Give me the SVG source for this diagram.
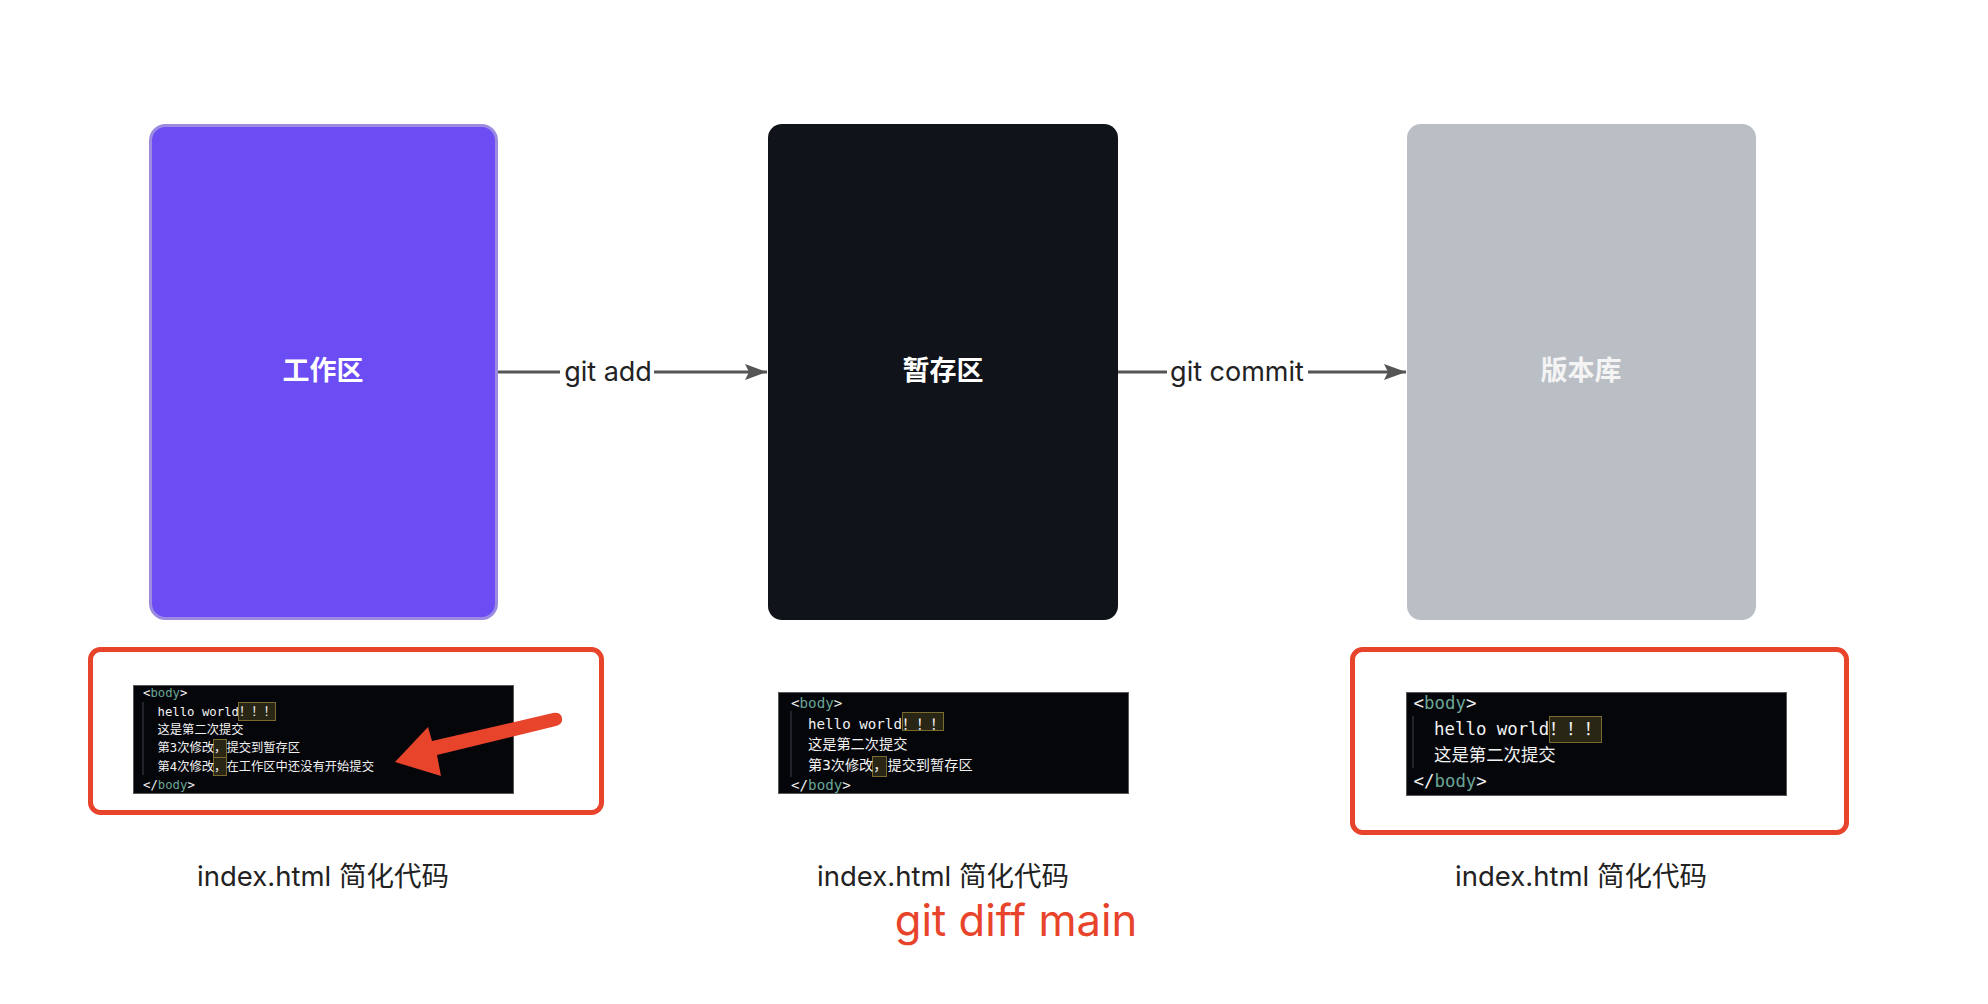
<svg xmlns="http://www.w3.org/2000/svg" width="1988" height="1004" viewBox="0 0 1988 1004">
<style>
.lbl{font-family:Inter,"Noto Sans CJK SC",sans-serif;fill:#222;font-size:27.5px;text-anchor:middle}
.conlbl{font-family:Inter,"Noto Sans CJK SC",sans-serif;fill:#222;font-size:27px;text-anchor:middle}
.title{font-family:"Noto Sans CJK SC",sans-serif;font-size:27px;font-weight:bold;text-anchor:middle}
.code{font-family:"DejaVu Sans Mono","Noto Sans CJK SC",monospace;fill:#f2f2f2}
.tag{fill:#6aa596}
.hl{fill:#2a2615;stroke:#7b6a2e;stroke-width:1}
.guide{stroke:#2b2f36;stroke-width:1.5}
.cb{fill:#05060a;stroke:#5a5a5a;stroke-width:1}
.red{fill:none;stroke:#e8432b;stroke-width:5}
.conn{stroke:#555;stroke-width:3;fill:none}
</style>
<defs>
<marker id="ah" viewBox="0 0 22 16" refX="22" refY="8" markerWidth="22" markerHeight="16" markerUnits="userSpaceOnUse" orient="auto">
<path d="M0,0 L22,8 L0,16 L4,8 Z" fill="#555"/>
</marker>
</defs>
<rect width="1988" height="1004" fill="#fff"/>

<g id="workspace">
<rect x="150.5" y="125.5" width="346" height="493" rx="15" fill="#6c4cf3" stroke="#9c8be0" stroke-width="3"/>
<text class="title" x="323" y="380" fill="#fff">工作区</text>
</g>
<g id="staging">
<rect x="768" y="124" width="350" height="496" rx="14" fill="#10131a"/>
<text class="title" x="943" y="380" fill="#fff">暂存区</text>
</g>
<g id="repo">
<rect x="1407" y="124" width="349" height="496" rx="14" fill="#babec5"/>
<text class="title" x="1581" y="380" fill="#f4f4f4">版本库</text>
</g>

<g id="connectors">
<line class="conn" x1="498" y1="372" x2="560" y2="372"/>
<line class="conn" x1="654" y1="372" x2="767" y2="372" marker-end="url(#ah)"/>
<text class="conlbl" x="608" y="381">git add</text>
<line class="conn" x1="1118" y1="372" x2="1167" y2="372"/>
<line class="conn" x1="1308" y1="372" x2="1406" y2="372" marker-end="url(#ah)"/>
<text class="conlbl" x="1237" y="381">git commit</text>
</g>

<g id="code-workspace">
<rect class="red" x="90.5" y="649.5" width="511" height="163" rx="10"/>
<rect class="cb" x="133.5" y="685.5" width="380" height="108"/>
<line class="guide" x1="143" y1="702" x2="143" y2="775"/>
<rect class="hl" x="238.5" y="702.5" width="37" height="18"/>
<rect class="hl" x="213.5" y="739.5" width="13" height="18"/>
<rect class="hl" x="213.5" y="757.5" width="13" height="18"/>
<g class="code" font-size="12.3">
<text x="143" y="697">&lt;<tspan class="tag">body</tspan>&gt;</text>
<text x="157.5" y="715.5">hello world！！！</text>
<text x="157.5" y="734">这是第二次提交</text>
<text x="157.5" y="752">第3次修改，提交到暂存区</text>
<text x="157.5" y="770.5">第4次修改，在工作区中还没有开始提交</text>
<text x="143" y="789">&lt;/<tspan class="tag">body</tspan>&gt;</text>
</g>
<path d="M395,762 L428,727 L432,741 L553,713 Q561,712 562,718 Q563,724 556,726 L437,755 L441,776 Z" fill="#e8432b"/>
<text class="lbl" x="323" y="886">index.html 简化代码</text>
</g>

<g id="code-staging">
<rect class="cb" x="778.5" y="692.5" width="350" height="101"/>
<line class="guide" x1="791" y1="711" x2="791" y2="777"/>
<rect class="hl" x="902.5" y="712.5" width="41" height="18"/>
<rect class="hl" x="872.5" y="756.5" width="14" height="20"/>
<g class="code" font-size="14.2">
<text x="791" y="708">&lt;<tspan class="tag">body</tspan>&gt;</text>
<text x="808" y="728.5">hello world！！！</text>
<text x="808" y="749">这是第二次提交</text>
<text x="808" y="769.5">第3次修改，提交到暂存区</text>
<text x="791" y="790">&lt;/<tspan class="tag">body</tspan>&gt;</text>
</g>
<text class="lbl" x="943" y="886">index.html 简化代码</text>
<text x="1016" y="936" font-family="Inter,sans-serif" font-size="43.5" fill="#e8432b" text-anchor="middle">git diff main</text>
</g>

<g id="code-repo">
<rect class="red" x="1352.5" y="649.5" width="494" height="183" rx="10"/>
<rect class="cb" x="1406.5" y="692.5" width="380" height="103"/>
<line class="guide" x1="1413" y1="716" x2="1413" y2="768"/>
<rect class="hl" x="1549.5" y="716.5" width="52" height="26"/>
<g class="code" font-size="17.4">
<text x="1413.5" y="708.5">&lt;<tspan class="tag">body</tspan>&gt;</text>
<text x="1434" y="734.5">hello world！！！</text>
<text x="1434" y="760.5">这是第二次提交</text>
<text x="1413.5" y="786.5">&lt;/<tspan class="tag">body</tspan>&gt;</text>
</g>
<text class="lbl" x="1581" y="886">index.html 简化代码</text>
</g>
</svg>
